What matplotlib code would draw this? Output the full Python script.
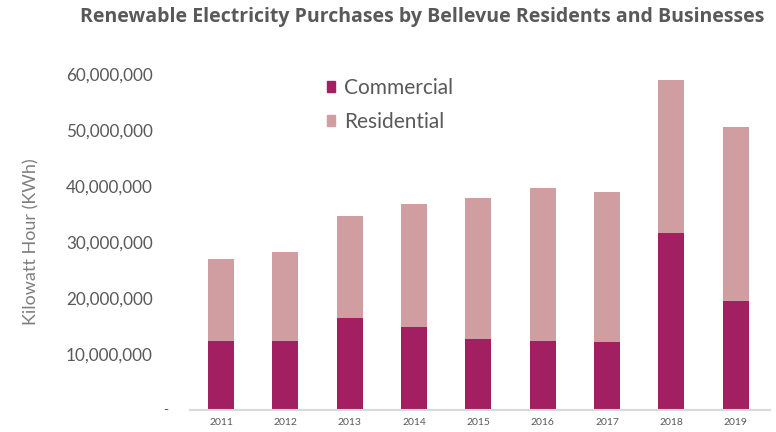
import matplotlib
matplotlib.use('Agg')
import matplotlib.pyplot as plt
from matplotlib.patches import Patch
from matplotlib.ticker import FuncFormatter

# 数据 (KWh)
years = ['2011', '2012', '2013', '2014', '2015', '2016', '2017', '2018', '2019']
commercial = [12.3e6, 12.3e6, 16.5e6, 14.8e6, 12.6e6, 12.4e6, 12.2e6, 31.6e6, 19.5e6]
total = [26.9e6, 28.2e6, 34.6e6, 36.8e6, 37.8e6, 39.7e6, 38.9e6, 58.9e6, 50.5e6]
residential = [t - c for t, c in zip(total, commercial)]

C_COM = '#A21F62'
C_RES = '#D09DA0'
GRAY = '#595959'

plt.rcParams['font.family'] = ['Lato', 'DejaVu Sans']

fig = plt.figure(figsize=(7.76, 4.32), dpi=100)
ax = fig.add_axes([0.245, 0.051, 0.747, 0.778])

x = range(len(years))
ax.bar(x, commercial, width=0.4, color=C_COM, edgecolor='none')
ax.bar(x, residential, width=0.4, bottom=commercial, color=C_RES, edgecolor='none')

ax.set_xlim(-0.48, 8.53)
ax.set_ylim(0, 60e6)
ax.set_xticks(list(x))
ax.set_xticklabels(years, fontsize=7.5, color=GRAY)
ax.set_yticks([10e6 * i for i in range(1, 7)])
ax.yaxis.set_major_formatter(FuncFormatter(lambda v, p: f'{v:,.0f}'))
ax.tick_params(axis='y', length=0, pad=27, labelsize=12.3, labelcolor=GRAY)
ax.tick_params(axis='x', length=0, pad=6)
# Excel 风格的零值 "-"
ax.text(-0.043, 0, '-', transform=ax.transAxes, ha='center', va='center',
        fontsize=10, color=GRAY)

for s in ['top', 'right', 'left']:
    ax.spines[s].set_visible(False)
ax.spines['bottom'].set_color('#D9D9D9')
ax.spines['bottom'].set_linewidth(1.5)

ax.set_ylabel('Kilowatt Hour (KWh)', fontsize=13, color='#7F7F7F')
ax.yaxis.set_label_coords(-0.26, 0.5)

fig.text(0.544, 0.961, 'Renewable Electricity Purchases by Bellevue Residents and Businesses',
         ha='center', va='center', fontsize=14, fontweight='bold', color=GRAY,
         family=['Open Sans', 'DejaVu Sans'])

handles = [Patch(color=C_COM), Patch(color=C_RES)]
ax.legend(handles, ['Commercial', 'Residential'], loc='upper left',
          bbox_to_anchor=(0.203, 1.043), frameon=False, fontsize=15,
          handlelength=0.4, handleheight=0.4, handletextpad=0.45,
          labelspacing=0.65, labelcolor=GRAY)

fig.savefig('out.png', dpi=100, facecolor='white')
